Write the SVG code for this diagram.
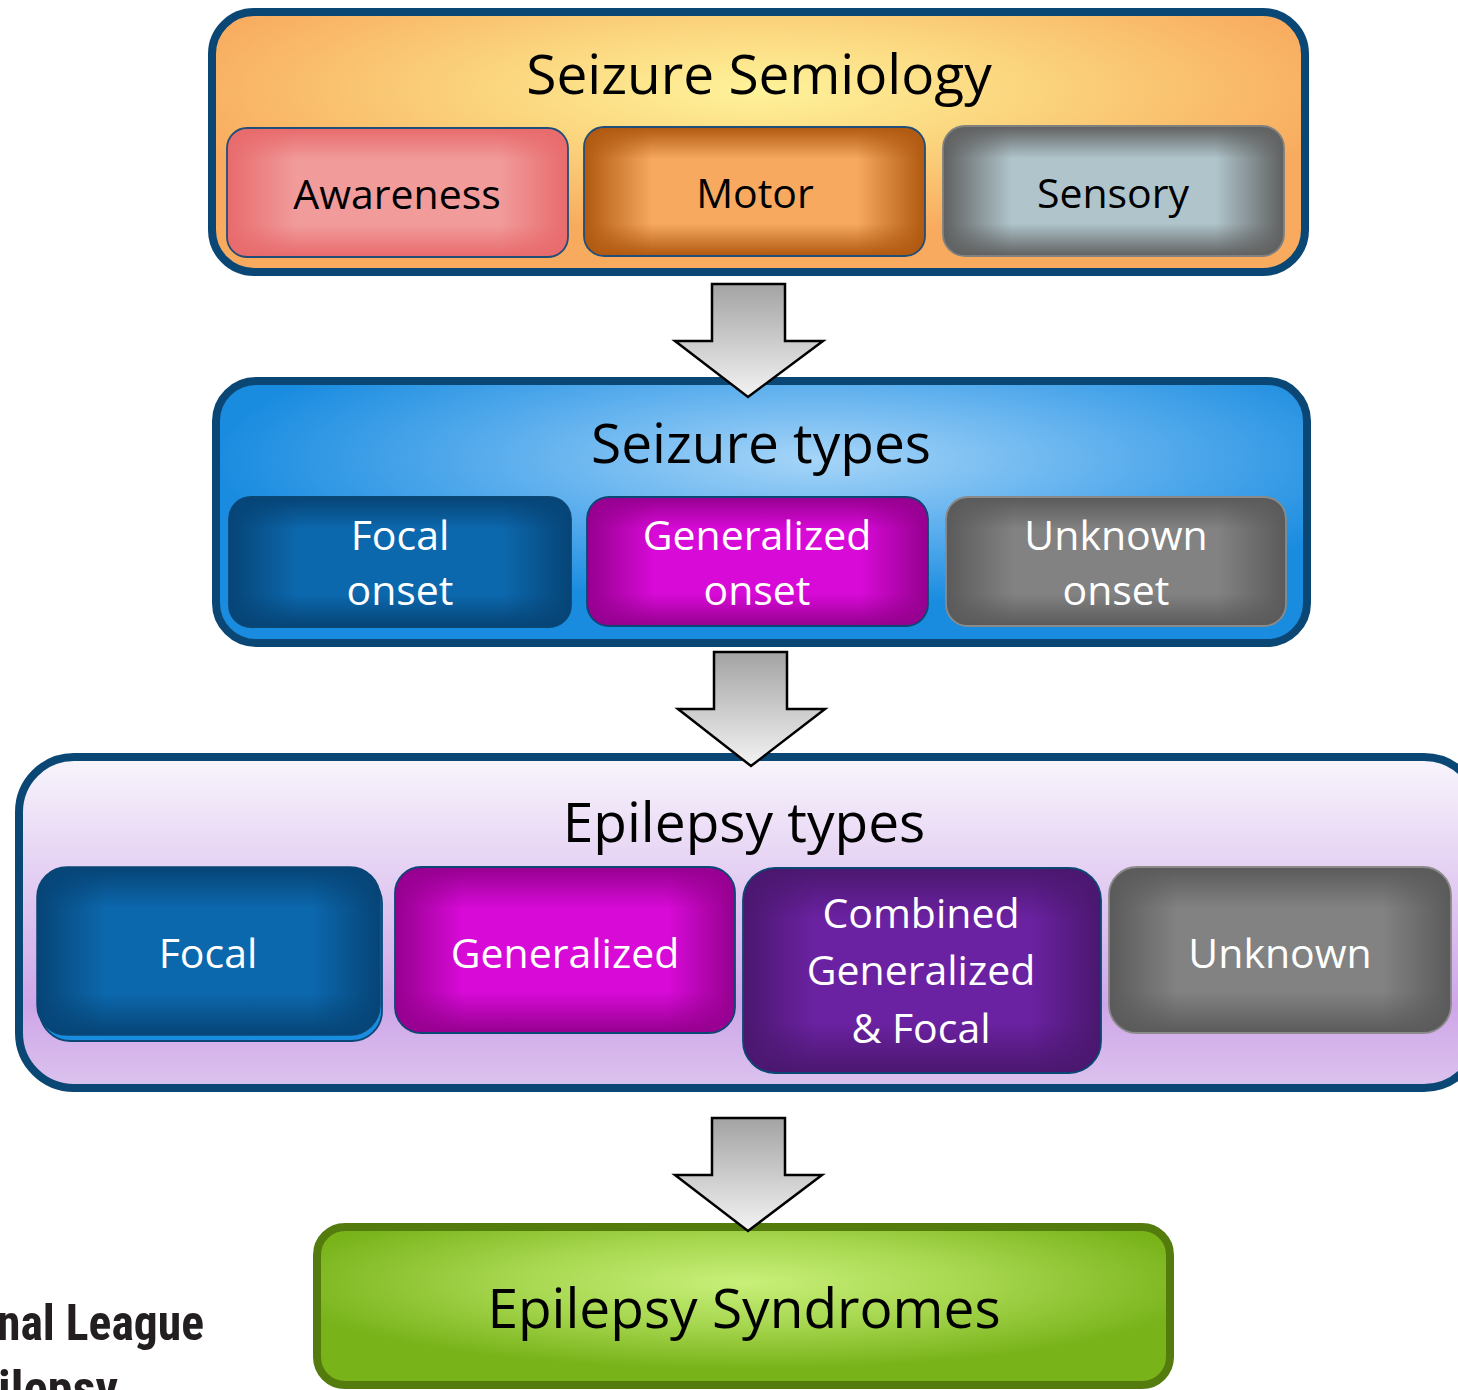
<svg xmlns="http://www.w3.org/2000/svg" width="1458" height="1390" viewBox="0 0 1458 1390">
<style>
.title{font-family:"Open Sans","Liberation Sans",sans-serif;font-size:55px;fill:#000;text-anchor:middle}
.lbl{font-family:"Open Sans","Liberation Sans",sans-serif;font-size:41px;text-anchor:middle}
.dark{fill:#000}
.light{fill:#fff}
.outer{stroke:#0b4775;stroke-width:8}
.arrow{fill:url(#gArrow);stroke:#000;stroke-width:2.5;stroke-linejoin:miter}
.logo{font-family:"Liberation Sans Narrow","Roboto Condensed","Liberation Sans",sans-serif;font-weight:bold;font-size:50px;fill:#231f20}
</style>
<defs>
<linearGradient id="gArrow" x1="0" y1="0" x2="0" y2="1">
<stop offset="0" stop-color="#a3a3a3"/><stop offset="1" stop-color="#f3f3f3"/>
</linearGradient>
<radialGradient id="gTop" cx="0.5" cy="0.3" r="0.55">
<stop offset="0" stop-color="#fef39a"/><stop offset="0.45" stop-color="#fbd57e"/><stop offset="1" stop-color="#f8ab5e"/>
</radialGradient>
<radialGradient id="gTypes" cx="0.55" cy="0.3" r="0.55">
<stop offset="0" stop-color="#a6d5f8"/><stop offset="0.5" stop-color="#5fb0ee"/><stop offset="1" stop-color="#1a8ce0"/>
</radialGradient>
<linearGradient id="gEpi" x1="0" y1="0" x2="0" y2="1">
<stop offset="0" stop-color="#f8f5fc"/><stop offset="0.75" stop-color="#cea6e8"/><stop offset="1" stop-color="#dcc3ee"/>
</linearGradient>
<radialGradient id="gGreen" cx="0.5" cy="0.35" r="0.55">
<stop offset="0" stop-color="#c8f07a"/><stop offset="0.5" stop-color="#a6d64e"/><stop offset="1" stop-color="#78b31a"/>
</radialGradient>
<!-- bevel edge gradients -->
<linearGradient id="hAw" x1="0" y1="0" x2="1" y2="0"><stop offset="0" stop-color="#e86a6c"/><stop offset="0.2" stop-color="#e86a6c" stop-opacity="0"/><stop offset="0.8" stop-color="#e86a6c" stop-opacity="0"/><stop offset="1" stop-color="#e86a6c"/></linearGradient>
<linearGradient id="vAw" x1="0" y1="0" x2="0" y2="1"><stop offset="0" stop-color="#e86a6c"/><stop offset="0.25" stop-color="#e86a6c" stop-opacity="0"/><stop offset="0.75" stop-color="#e86a6c" stop-opacity="0"/><stop offset="1" stop-color="#e86a6c"/></linearGradient>
<linearGradient id="hMo" x1="0" y1="0" x2="1" y2="0"><stop offset="0" stop-color="#b0580f"/><stop offset="0.2" stop-color="#b0580f" stop-opacity="0"/><stop offset="0.8" stop-color="#b0580f" stop-opacity="0"/><stop offset="1" stop-color="#b0580f"/></linearGradient>
<linearGradient id="vMo" x1="0" y1="0" x2="0" y2="1"><stop offset="0" stop-color="#b0580f"/><stop offset="0.25" stop-color="#b0580f" stop-opacity="0"/><stop offset="0.75" stop-color="#b0580f" stop-opacity="0"/><stop offset="1" stop-color="#b0580f"/></linearGradient>
<linearGradient id="hSe" x1="0" y1="0" x2="1" y2="0"><stop offset="0" stop-color="#5f6060"/><stop offset="0.2" stop-color="#5f6060" stop-opacity="0"/><stop offset="0.8" stop-color="#5f6060" stop-opacity="0"/><stop offset="1" stop-color="#5f6060"/></linearGradient>
<linearGradient id="vSe" x1="0" y1="0" x2="0" y2="1"><stop offset="0" stop-color="#5f6060"/><stop offset="0.25" stop-color="#5f6060" stop-opacity="0"/><stop offset="0.75" stop-color="#5f6060" stop-opacity="0"/><stop offset="1" stop-color="#5f6060"/></linearGradient>
<linearGradient id="hBl" x1="0" y1="0" x2="1" y2="0"><stop offset="0" stop-color="#064476"/><stop offset="0.2" stop-color="#064476" stop-opacity="0"/><stop offset="0.8" stop-color="#064476" stop-opacity="0"/><stop offset="1" stop-color="#064476"/></linearGradient>
<linearGradient id="vBl" x1="0" y1="0" x2="0" y2="1"><stop offset="0" stop-color="#064476"/><stop offset="0.25" stop-color="#064476" stop-opacity="0"/><stop offset="0.75" stop-color="#064476" stop-opacity="0"/><stop offset="1" stop-color="#064476"/></linearGradient>
<linearGradient id="hMa" x1="0" y1="0" x2="1" y2="0"><stop offset="0" stop-color="#95008e"/><stop offset="0.2" stop-color="#95008e" stop-opacity="0"/><stop offset="0.8" stop-color="#95008e" stop-opacity="0"/><stop offset="1" stop-color="#95008e"/></linearGradient>
<linearGradient id="vMa" x1="0" y1="0" x2="0" y2="1"><stop offset="0" stop-color="#95008e"/><stop offset="0.25" stop-color="#95008e" stop-opacity="0"/><stop offset="0.75" stop-color="#95008e" stop-opacity="0"/><stop offset="1" stop-color="#95008e"/></linearGradient>
<linearGradient id="hGr" x1="0" y1="0" x2="1" y2="0"><stop offset="0" stop-color="#5a5a5a"/><stop offset="0.2" stop-color="#5a5a5a" stop-opacity="0"/><stop offset="0.8" stop-color="#5a5a5a" stop-opacity="0"/><stop offset="1" stop-color="#5a5a5a"/></linearGradient>
<linearGradient id="vGr" x1="0" y1="0" x2="0" y2="1"><stop offset="0" stop-color="#5a5a5a"/><stop offset="0.25" stop-color="#5a5a5a" stop-opacity="0"/><stop offset="0.75" stop-color="#5a5a5a" stop-opacity="0"/><stop offset="1" stop-color="#5a5a5a"/></linearGradient>
<linearGradient id="hPu" x1="0" y1="0" x2="1" y2="0"><stop offset="0" stop-color="#4a176e"/><stop offset="0.2" stop-color="#4a176e" stop-opacity="0"/><stop offset="0.8" stop-color="#4a176e" stop-opacity="0"/><stop offset="1" stop-color="#4a176e"/></linearGradient>
<linearGradient id="vPu" x1="0" y1="0" x2="0" y2="1"><stop offset="0" stop-color="#4a176e"/><stop offset="0.25" stop-color="#4a176e" stop-opacity="0"/><stop offset="0.75" stop-color="#4a176e" stop-opacity="0"/><stop offset="1" stop-color="#4a176e"/></linearGradient>
</defs>

<rect width="1458" height="1390" fill="#fff"/>

<!-- Seizure Semiology -->
<g id="semiology">
<rect x="212" y="12" width="1093" height="260" rx="42" fill="url(#gTop)" class="outer"/>
<text x="759" y="94" class="title">Seizure Semiology</text>
</g>
<g id="awareness">
<rect x="227" y="128" width="341" height="129" rx="20" fill="#f19b9b"/>
<rect x="227" y="128" width="341" height="129" rx="20" fill="url(#hAw)"/>
<rect x="227" y="128" width="341" height="129" rx="20" fill="url(#vAw)" stroke="#1f4e79" stroke-width="1.8"/>
<text x="397" y="209" class="lbl dark">Awareness</text>
</g>
<g id="motor">
<rect x="584" y="127" width="341" height="129" rx="20" fill="#f7a960"/>
<rect x="584" y="127" width="341" height="129" rx="20" fill="url(#hMo)"/>
<rect x="584" y="127" width="341" height="129" rx="20" fill="url(#vMo)" stroke="#1f4e79" stroke-width="1.8"/>
<text x="755" y="208" class="lbl dark">Motor</text>
</g>
<g id="sensory">
<rect x="943" y="126" width="341" height="130" rx="22" fill="#afc4cb"/>
<rect x="943" y="126" width="341" height="130" rx="22" fill="url(#hSe)"/>
<rect x="943" y="126" width="341" height="130" rx="22" fill="url(#vSe)" stroke="#808080" stroke-width="1.8"/>
<text x="1113" y="208" class="lbl dark">Sensory</text>
</g>

<!-- Seizure types -->
<g id="seizure-types">
<rect x="216" y="381" width="1091" height="262" rx="40" fill="url(#gTypes)" class="outer"/>
<text x="761" y="463" class="title">Seizure types</text>
</g>
<g id="focal-onset">
<rect x="229" y="497" width="342" height="130" rx="22" fill="#0c68ad"/>
<rect x="229" y="497" width="342" height="130" rx="22" fill="url(#hBl)"/>
<rect x="229" y="497" width="342" height="130" rx="22" fill="url(#vBl)" stroke="#0b4775" stroke-width="1.8"/>
<text x="400" y="550" class="lbl light">Focal</text>
<text x="400" y="605" class="lbl light">onset</text>
</g>
<g id="generalized-onset">
<rect x="587" y="497" width="341" height="129" rx="22" fill="#d80ad8"/>
<rect x="587" y="497" width="341" height="129" rx="22" fill="url(#hMa)"/>
<rect x="587" y="497" width="341" height="129" rx="22" fill="url(#vMa)" stroke="#0b4775" stroke-width="1.8"/>
<text x="757" y="550" class="lbl light">Generalized</text>
<text x="757" y="605" class="lbl light">onset</text>
</g>
<g id="unknown-onset">
<rect x="946" y="497" width="340" height="129" rx="22" fill="#828282"/>
<rect x="946" y="497" width="340" height="129" rx="22" fill="url(#hGr)"/>
<rect x="946" y="497" width="340" height="129" rx="22" fill="url(#vGr)" stroke="#8a8a8a" stroke-width="1.8"/>
<text x="1116" y="550" class="lbl light">Unknown</text>
<text x="1116" y="605" class="lbl light">onset</text>
</g>

<!-- Epilepsy types -->
<g id="epilepsy-types">
<rect x="19" y="757" width="1460" height="331" rx="55" fill="url(#gEpi)" class="outer"/>
<text x="744" y="842" class="title">Epilepsy types</text>
</g>
<g id="focal">
<rect x="40" y="873" width="342" height="168" rx="30" fill="#1a8ce0" stroke="#0b4775" stroke-width="1.8"/>
<rect x="37" y="867" width="343" height="168" rx="30" fill="#0c68ad"/>
<rect x="37" y="867" width="343" height="168" rx="30" fill="url(#hBl)"/>
<rect x="37" y="867" width="343" height="168" rx="30" fill="url(#vBl)" stroke="#0b4775" stroke-width="1.5"/>
<text x="208" y="968" class="lbl light">Focal</text>
</g>
<g id="generalized">
<rect x="395" y="867" width="340" height="166" rx="26" fill="#d80ad8"/>
<rect x="395" y="867" width="340" height="166" rx="26" fill="url(#hMa)"/>
<rect x="395" y="867" width="340" height="166" rx="26" fill="url(#vMa)" stroke="#0b4775" stroke-width="1.8"/>
<text x="565" y="968" class="lbl light">Generalized</text>
</g>
<g id="combined">
<rect x="743" y="868" width="358" height="205" rx="32" fill="#6b22a2"/>
<rect x="743" y="868" width="358" height="205" rx="32" fill="url(#hPu)"/>
<rect x="743" y="868" width="358" height="205" rx="32" fill="url(#vPu)" stroke="#0b4775" stroke-width="1.8"/>
<text x="921" y="928" class="lbl light">Combined</text>
<text x="921" y="985" class="lbl light">Generalized</text>
<text x="921" y="1043" class="lbl light">&amp; Focal</text>
</g>
<g id="unknown">
<rect x="1109" y="867" width="342" height="166" rx="28" fill="#828282"/>
<rect x="1109" y="867" width="342" height="166" rx="28" fill="url(#hGr)"/>
<rect x="1109" y="867" width="342" height="166" rx="28" fill="url(#vGr)" stroke="#8a8a8a" stroke-width="1.8"/>
<text x="1280" y="968" class="lbl light">Unknown</text>
</g>

<!-- Epilepsy Syndromes -->
<g id="syndromes">
<rect x="317" y="1227" width="853" height="158" rx="28" fill="url(#gGreen)" stroke="#537b0e" stroke-width="8"/>
<text x="744" y="1328" class="title">Epilepsy Syndromes</text>
</g>

<!-- logo text fragment -->
<g id="logo-text">
<text x="-3" y="1340" class="logo" textLength="207" lengthAdjust="spacingAndGlyphs">nal League</text>
<text x="-2" y="1406" class="logo" textLength="120" lengthAdjust="spacingAndGlyphs">ilepsy</text>
</g>

<!-- connectors -->
<g id="connectors">
<polygon class="arrow" points="712,284 785,284 785,341 823,341 748,397 675,341 712,341"/>
<polygon class="arrow" points="714,652 787,652 787,709 825,709 751,766 678,709 714,709"/>
<polygon class="arrow" points="712,1118 785,1118 785,1175 822,1175 748,1231 675,1175 712,1175"/>
</g>
</svg>
